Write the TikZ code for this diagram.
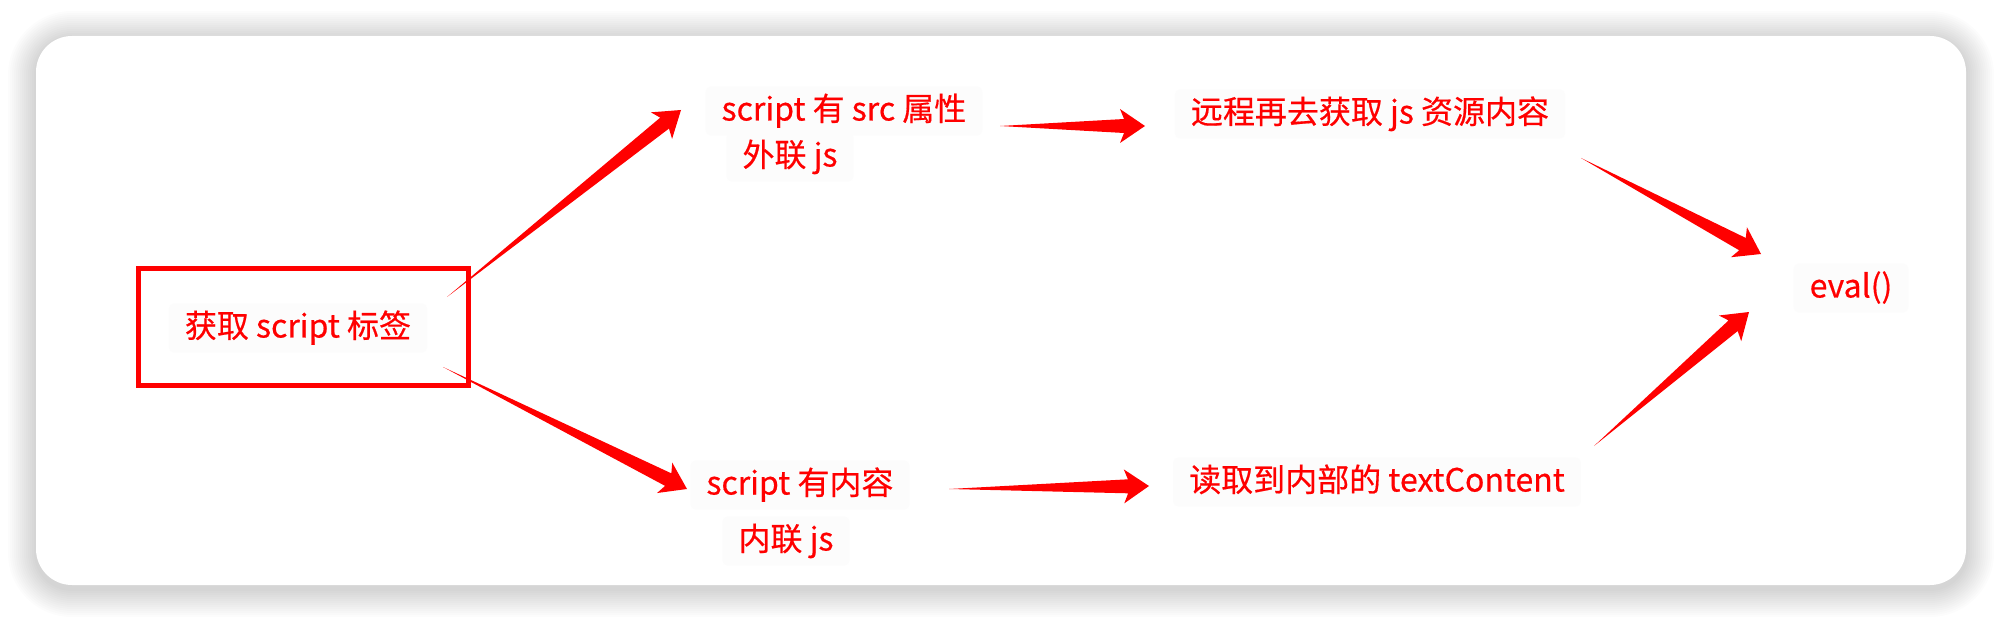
\documentclass[tikz,border=0pt]{standalone}
\usepackage{fontspec}
\setmainfont[FakeBold=0.5]{Noto Sans CJK SC}
\usepackage{tikz}
\usetikzlibrary{calc}
\tikzset{
txt/.style={
  text=red,
  font=\fontsize{32}{38}\selectfont,
  fill=black!1,
  rounded corners=5pt,
  text height=26pt,
  text depth=7pt,
  inner xsep=16pt,
  inner ysep=8pt
},
tagbox/.style={draw=red,line width=5pt,minimum width=330pt,minimum height=116pt},
arrowfill/.style={fill=red},
card/.style={fill=white,rounded corners=36pt},
}
% tapered arrow from #1 to #2
\newcommand{\fatarrow}[2]{%
  \fill[arrowfill] (#1)
    -- ($(#2)!21pt!(#1)!7pt!90:(#2)$)
    -- ($(#2)!25pt!(#1)!17pt!90:(#2)$)
    -- (#2)
    -- ($(#2)!25pt!(#1)!17pt!-90:(#2)$)
    -- ($(#2)!21pt!(#1)!7pt!-90:(#2)$)
    -- cycle;}

\begin{document}
\begin{tikzpicture}[x=1pt,y=-1pt]
\useasboundingbox[fill=white] (0,0) rectangle (2002,620);
% the card and its shadow
\foreach \s [evaluate=\s as \r using 36+2*\s] in {1,...,14}
  \fill[black,opacity=0.012,rounded corners=\r pt] (36-2*\s,39-2*\s) rectangle (1966+2*\s,589+2*\s);
\fill[card] (36,36) rectangle (1966,585);
% the nodes
\node[tagbox] (frame) at (303,327) {};
\node[txt] (tag) at (298,328) {获取 script 标签};
\node[txt] (src) at (844,111) {script 有 src 属性};
\node[txt] (ext) at (790,157) {外联 js};
\node[txt] (inl) at (800,485) {script 有内容};
\node[txt] (inj) at (786,541) {内联 js};
\node[txt] (fetch) at (1370,114) {远程再去获取 js 资源内容};
\node[txt] (read) at (1377,482) {读取到内部的 textContent};
\node[txt] (eval) at (1851,288) {eval()};
% the arrows
\coordinate (a1) at (447,297); \coordinate (b1) at (681,110);
\coordinate (a2) at (443,367); \coordinate (b2) at (687,489);
\coordinate (a3) at (1000,126); \coordinate (b3) at (1145,126);
\coordinate (a4) at (949,489); \coordinate (b4) at (1149,486);
\coordinate (a5) at (1581,158); \coordinate (b5) at (1761,254);
\coordinate (a6) at (1594,446); \coordinate (b6) at (1749,312);
\foreach \i in {1,...,6}
  \fatarrow{a\i}{b\i};
\end{tikzpicture}
\end{document}
